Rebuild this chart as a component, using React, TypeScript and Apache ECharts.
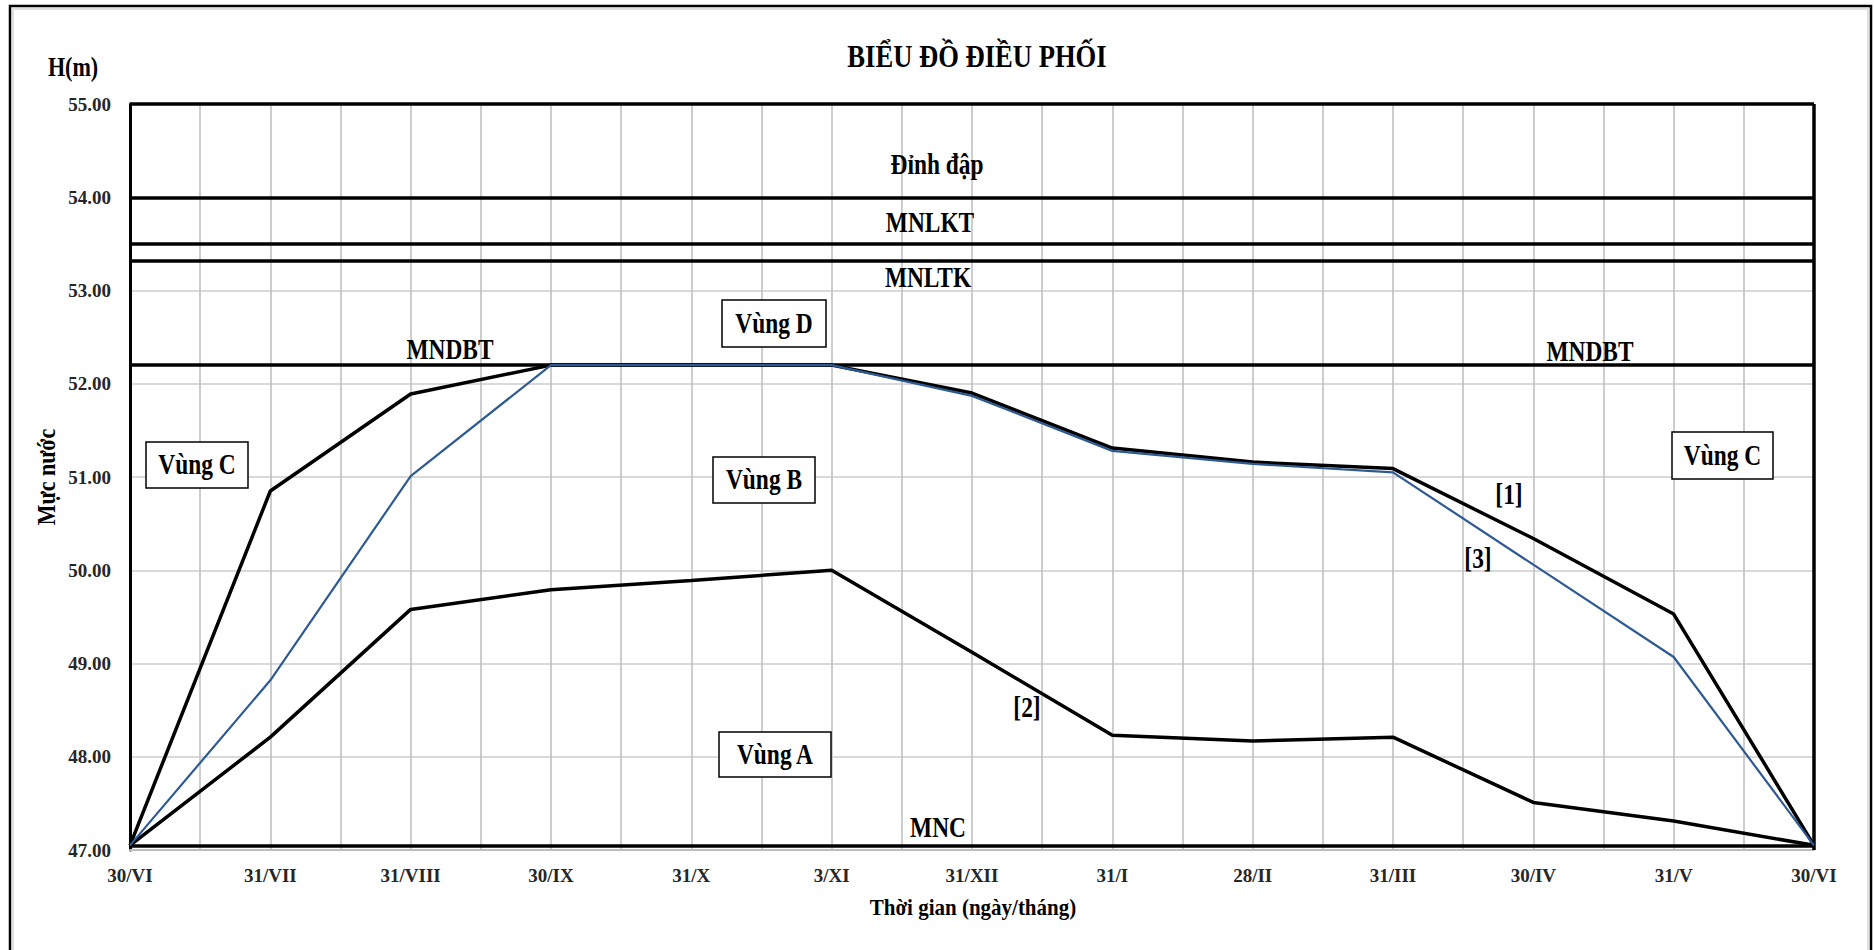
import React, { useEffect, useRef } from "react";
import * as echarts from "echarts";

// ---- data ----
const xLabels = ["30/VI", "31/VII", "31/VIII", "30/IX", "31/X", "3/XI", "31/XII", "31/I", "28/II", "31/III", "30/IV", "31/V", "30/VI"];
const line1 = [47.05, 50.85, 51.89, 52.2, 52.2, 52.2, 51.9, 51.31, 51.16, 51.09, 50.34, 49.53, 47.05];
const line2 = [47.05, 48.21, 49.58, 49.79, 49.89, 50.0, 49.12, 48.23, 48.17, 48.21, 47.51, 47.31, 47.05];
const line3 = [47.05, 48.82, 51.01, 52.2, 52.2, 52.2, 51.87, 51.28, 51.14, 51.05, 50.06, 49.07, 47.05];
const refNames = ["Đỉnh đập", "MNLKT", "MNLTK", "MNDBT", "MNC"];
const refLevels = [54.0, 53.5, 53.32, 52.2, 47.05];
const yMin = 47;
const yMax = 55;

// ---- annotation layout (pixels) ----
const lineLabels = [
  { text: "Đỉnh đập", x: 937, y: 165 },
  { text: "MNLKT", x: 930, y: 223 },
  { text: "MNLTK", x: 928, y: 278 },
  { text: "MNDBT", x: 450, y: 350 },
  { text: "MNDBT", x: 1590, y: 352 },
  { text: "MNC", x: 938, y: 828 },
  { text: "[1]", x: 1509, y: 495 },
  { text: "[3]", x: 1478, y: 559 },
  { text: "[2]", x: 1027, y: 708 },
];
const boxes = [
  { text: "Vùng D", x: 722, y: 300, w: 104, h: 47 },
  { text: "Vùng B", x: 713, y: 457, w: 102, h: 46 },
  { text: "Vùng A", x: 719, y: 732, w: 112, h: 45 },
  { text: "Vùng C", x: 146, y: 442, w: 102, h: 46 },
  { text: "Vùng C", x: 1672, y: 432, w: 101, h: 47 },
];

const FONT = "'Liberation Serif', 'Times New Roman', serif";

export default function App() {
  const ref = useRef<HTMLDivElement>(null);
  useEffect(() => {
    if (!ref.current) return;
    const chart = echarts.init(ref.current, null, { renderer: "svg" });
    const toPairs = (arr: number[]) => arr.map((v, i) => [i, v]);
    const graphic: any[] = [
      { type: "rect", shape: { x: 10, y: 6, width: 1861, height: 1000 }, style: { fill: "none", stroke: "#000", lineWidth: 2.5 }, silent: true },
      { type: "rect", shape: { x: 13, y: 9, width: 1855, height: 1000 }, style: { fill: "none", stroke: "#d6d6d6", lineWidth: 1.5 }, silent: true },
      { type: "text", x: 977, y: 56, scaleX: 0.95, scaleY: 1.12, style: { text: "BIỂU ĐỒ ĐIỀU PHỐI", font: `bold 28px ${FONT}`, fill: "#000", align: "center", verticalAlign: "middle" } },
      { type: "text", x: 73, y: 67, scaleX: 0.92, scaleY: 1.15, style: { text: "H(m)", font: `bold 24px ${FONT}`, fill: "#000", align: "center", verticalAlign: "middle" } },
      { type: "text", x: 47, y: 477, rotation: Math.PI / 2, scaleY: 1.1, style: { text: "Mực nước", font: `bold 22px ${FONT}`, fill: "#000", align: "center", verticalAlign: "middle" } },
      { type: "text", x: 973, y: 907, scaleY: 1.1, style: { text: "Thời gian (ngày/tháng)", font: `bold 21px ${FONT}`, fill: "#000", align: "center", verticalAlign: "middle" } },
    ];
    lineLabels.forEach((l) => {
      graphic.push({ type: "text", x: l.x, y: l.y, z: 10, scaleX: 0.9, scaleY: 1.1, style: { text: l.text, font: `bold 26px ${FONT}`, fill: "#000", align: "center", verticalAlign: "middle" } });
    });
    boxes.forEach((b) => {
      graphic.push({ type: "rect", z: 10, shape: { x: b.x, y: b.y, width: b.w, height: b.h }, style: { fill: "#fff", stroke: "#000", lineWidth: 1.5 } });
      graphic.push({ type: "text", z: 11, x: b.x + b.w / 2, y: b.y + b.h / 2, scaleX: 0.9, scaleY: 1.1, style: { text: b.text, font: `bold 26px ${FONT}`, fill: "#000", align: "center", verticalAlign: "middle" } });
    });

    chart.setOption({
      animation: false,
      backgroundColor: "#fff",
      grid: { left: 130, right: 60, top: 104, bottom: 100 },
      xAxis: {
        type: "value",
        min: 0,
        max: xLabels.length - 1,
        interval: 0.5,
        axisLine: { show: true, lineStyle: { color: "#bdbdbd", width: 2 } },
        axisTick: { show: false },
        axisLabel: {
          margin: 16,
          fontFamily: FONT,
          fontWeight: "bold",
          fontSize: 19,
          color: "#262626",
          formatter: (v: number) => (Number.isInteger(v) ? xLabels[v] : ""),
        },
        splitLine: { show: true, lineStyle: { color: "#bdbdbd", width: 1.5 } },
      },
      yAxis: {
        type: "value",
        min: yMin,
        max: yMax,
        interval: 1,
        axisLine: { show: true, lineStyle: { color: "#000", width: 3 } },
        axisTick: { show: false },
        axisLabel: {
          margin: 19,
          fontFamily: FONT,
          fontWeight: "bold",
          fontSize: 19,
          color: "#262626",
          formatter: (v: number) => v.toFixed(2),
        },
        splitLine: { show: true, lineStyle: { color: "#d9d9d9", width: 2 } },
      },
      graphic,
      series: [
        {
          name: "[1]",
          type: "line",
          data: toPairs(line1),
          symbol: "none",
          lineStyle: { color: "#000", width: 3.5 },
          z: 3,
          markLine: {
            silent: true,
            symbol: ["none", "none"],
            label: { show: false },
            lineStyle: { color: "#000", width: 3.5, type: "solid" },
            data: [
              ...refLevels.map((v, i) => ({ name: refNames[i], yAxis: v })),
              { name: "top", yAxis: yMax },
              { name: "right", xAxis: xLabels.length - 1 },
            ],
          },
        },
        {
          name: "[2]",
          type: "line",
          data: toPairs(line2),
          symbol: "none",
          lineStyle: { color: "#000", width: 3.5 },
          z: 3,
        },
        {
          name: "[3]",
          type: "line",
          data: toPairs(line3),
          symbol: "none",
          lineStyle: { color: "#2e5a94", width: 2.2 },
          z: 5,
        },
      ],
    });
    return () => chart.dispose();
  }, []);
  return <div ref={ref} style={{ position: "fixed", left: 0, top: 0, width: 1874, height: 950 }} />;
}
